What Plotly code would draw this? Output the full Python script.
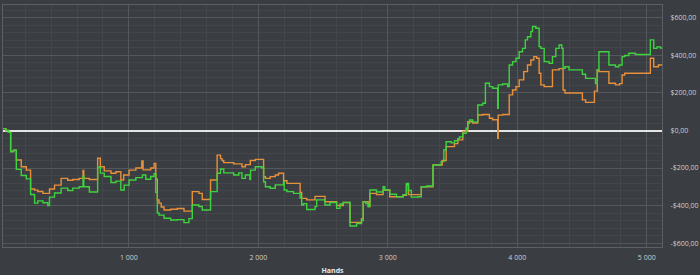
import plotly.graph_objects as go

# Green series (hands, cumulative winnings) – step points
green_hands = [30, 50, 70, 87, 110, 131, 169, 208, 241, 272, 297, 336, 374, 387, 426, 477, 528, 567, 618, 646, 652, 695, 759, 780, 810,
               862, 900, 938, 964, 1002, 1054, 1105, 1131, 1169, 1195, 1208, 1220, 1233, 1272, 1323, 1374, 1426, 1464, 1490, 1541, 1567, 1631, 1682,
               1708, 1733, 1810, 1849, 1874, 1900, 1935, 1940, 1977, 2028, 2041, 2055, 2092, 2131, 2195, 2200, 2221, 2272, 2323, 2335, 2349, 2374, 2438, 2451, 2515,
               2554, 2605, 2631, 2656, 2708, 2759, 2797, 2810, 2830, 2849, 2862, 2913, 2964, 2977, 3015, 3067, 3118, 3144, 3160, 3182, 3233, 3259, 3300, 3349, 3413, 3433,
               3451, 3490, 3515, 3541, 3554, 3579, 3605, 3618, 3631, 3656, 3695, 3733, 3754, 3785, 3810, 3849, 3853, 3887, 3926, 3938, 3964, 3990, 4015, 4041, 4062, 4079, 4105, 4118, 4144, 4169, 4182, 4208,
               4246, 4272, 4298, 4323, 4344, 4354, 4369, 4400, 4503, 4528, 4605, 4618, 4631, 4708, 4759, 4785, 4810, 4830, 4862, 4913, 5028, 5054, 5079, 5105, 5131]
green_vals = [10, 0, -10, -113, -105, -207, -240, -258, -341, -387, -375, -385, -400, -355, -333, -307, -320, -307, -300, -243, -300, -328, -195, -227, -245,
              -277, -270, -317, -291, -264, -251, -237, -260, -245, -230, -330, -440, -451, -468, -477, -475, -491, -470, -397, -405, -424, -326, -228,
              -205, -226, -237, -226, -255, -237, -262, -211, -193, -200, -273, -300, -308, -290, -273, -317, -326, -335, -360, -397, -390, -421, -406, -370, -397,
              -384, -415, -392, -384, -509, -496, -480, -380, -390, -405, -317, -328, -300, -317, -340, -353, -342, -282, -320, -355, -353, -300, -296, -184, -166, -104,
              -60, -66, -55, -44, -34, -15, 12, 38, 56, 46, 136, 145, 252, 234, 225, 118, 243, 248, 234, 349, 367, 385, 420, 438, 483, 500, 527, 554, 545, 447, 438, 367,
              358, 394, 438, 456, 438, 332, 340, 323, 300, 278, 250, 323, 420, 349, 340, 349, 394, 400, 412, 405, 483, 438, 446, 440, 445]

# Orange series
orange_hands = [30, 50, 70, 87, 110, 131, 169, 208, 241, 272, 297, 336, 387, 426, 477, 528, 567, 618, 646, 652, 695, 759, 780, 810,
                862, 900, 938, 960, 1002, 1054, 1100, 1110, 1169, 1195, 1208, 1220, 1233, 1250, 1272, 1323, 1374, 1426, 1490, 1541, 1567, 1631, 1682, 1708,
                1720, 1733, 1810, 1874, 1900, 1938, 1977, 2041, 2055, 2092, 2131, 2156, 2195, 2221, 2323, 2335, 2374, 2438, 2515,
                2605, 2656, 2708, 2797, 2810, 2849, 2862, 2913, 2964, 3015, 3118, 3144, 3160, 3259, 3349, 3420,
                3451, 3515, 3541, 3579, 3618, 3656, 3695, 3733, 3785, 3810, 3849, 3853, 3887, 3938, 3964, 3990, 4015, 4050, 4079, 4105, 4128, 4150, 4169, 4182, 4208,
                4246, 4272, 4323, 4354, 4369, 4503, 4528, 4596, 4618, 4631, 4708, 4759, 4790, 4810, 4830, 5028, 5054, 5090, 5131]
orange_vals = [10, 0, -10, -110, -105, -157, -193, -211, -312, -318, -325, -335, -312, -291, -255, -265, -261, -255, -213, -255, -261, -148, -193, -215,
               -228, -220, -264, -237, -211, -200, -162, -210, -200, -175, -260, -370, -387, -408, -424, -420, -416, -430, -326, -335, -368, -264, -131, -150,
               -160, -171, -178, -193, -182, -160, -154, -246, -255, -246, -237, -228, -268, -282, -330, -362, -370, -351, -380,
               -400, -384, -490, -470, -380, -405, -335, -342, -317, -353, -345, -289, -342, -300, -184, -160,
               -86, -70, -50, -5, 47, 40, 83, 85, 65, 57, -42, 82, 85, 190, 216, 234, 270, 314, 349, 376, 394, 385, 305, 243, 234,
               234, 323, 330, 216, 200, 163, 150, 210, 323, 314, 252, 243, 250, 296, 305, 385, 340, 349, 345]

x_tick_vals = [1000, 2000, 3000, 4000, 5000]
x_tick_text = ["1 000", "2 000", "3 000", "4 000", "5 000"]
y_tick_vals = [600, 400, 200, 0, -200, -400, -600]
y_tick_text = ["$600,00", "$400,00", "$200,00", "$0,00", "-$200,00", "-$400,00", "-$600,00"]

BG = "#3a3d42"
FONT = "Open Sans"

fig = go.Figure()
fig.add_trace(go.Scatter(x=orange_hands, y=orange_vals, mode="lines", line=dict(color="#e8903a", width=1.4, shape="hv"), showlegend=False))
fig.add_trace(go.Scatter(x=green_hands, y=green_vals, mode="lines", line=dict(color="#3ed33e", width=1.4, shape="hv"), showlegend=False))

fig.update_layout(
    width=700, height=275,
    margin=dict(l=2, r=37, t=5, b=28),
    paper_bgcolor=BG, plot_bgcolor=BG,
    font=dict(family=FONT, size=7, color="#cfcfcf"),
    xaxis=dict(range=[28, 5118], tickvals=x_tick_vals, ticktext=x_tick_text,
               showgrid=True, gridcolor="#54575c", gridwidth=1,
               minor=dict(dtick=200, tick0=0, showgrid=True, gridcolor="#44474c", gridwidth=1),
               zeroline=False, showline=True, mirror=True, linecolor="#5c5f64", linewidth=1,
               ticks="", ticklabelstandoff=4,
               title=dict(text="<b>Hands</b>", font=dict(size=7, color="#e6e6e6", family=FONT), standoff=6)),
    yaxis=dict(range=[-621, 669], side="right", tickvals=y_tick_vals, ticktext=y_tick_text,
               showgrid=True, gridcolor="#54575c", gridwidth=1,
               minor=dict(dtick=40, tick0=0, showgrid=True, gridcolor="#424549", gridwidth=1),
               zeroline=True, zerolinecolor="#e4e4e4", zerolinewidth=2,
               showline=True, mirror=True, linecolor="#5c5f64", linewidth=1,
               ticks="", ticklabelstandoff=6),
)

fig.write_html("out.html")
